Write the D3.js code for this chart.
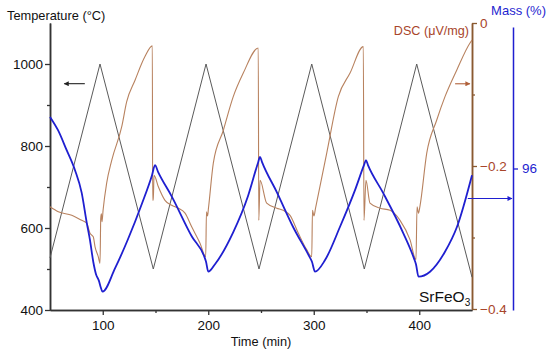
<!DOCTYPE html>
<html>
<head>
<meta charset="utf-8">
<script src="https://cdn.jsdelivr.net/npm/d3@7"></script>
<style>
  body { margin: 0; background: #fff; }
  svg { display: block; font-family: "Liberation Sans", Arial, sans-serif; }
</style>
</head>
<body>
<svg id="chart"></svg>
<script>
const width = 550;
const height = 351;

// temperature programme (°C)
const tempTime = [50, 97.4, 147.9, 197.9, 248.1, 298.1, 347.9, 397.6, 450];
const tempVals = [527, 1000, 500, 1000, 500, 1000, 500, 1000, 480];

// DSC signal (µV/mg)
const dscTime = [50, 57.9, 70.6, 80, 84.8, 87.9, 91, 92.7, 95.8, 97.4,
  98.1, 98.7, 99.3, 100.3, 103.7, 108.5, 118, 122.7, 130.6, 140, 147,
  147.3, 147.9, 148.6, 152.7, 159, 165.4, 171.6, 178, 184.3, 192.2, 197.6,
  198.3, 199.3, 200.2, 204.8, 214.3, 223.7, 233.2, 247.4,
  247.9, 249.1, 255.4, 264.9, 271.1, 277.5, 285.4, 293.3, 298.1,
  298.8, 300.2, 301.7, 312.3, 323.3, 334.4, 347,
  347.6, 349.5, 353.3, 362.8, 372.3, 381.8, 391.2, 396.9,
  397.9, 399.3, 400.7, 407.1, 416.5, 424.4, 435.5, 448.1, 450];
const dscVals = [-0.257, -0.264, -0.269, -0.276, -0.280, -0.294, -0.299, -0.313, -0.327, -0.336,
  -0.273, -0.267, -0.278, -0.262, -0.224, -0.192, -0.145, -0.110, -0.080, -0.047, -0.032,
  -0.248, -0.248, -0.213, -0.229, -0.248, -0.255, -0.259, -0.266, -0.285, -0.308, -0.327,
  -0.264, -0.270, -0.259, -0.196, -0.150, -0.103, -0.070, -0.035,
  -0.276, -0.220, -0.252, -0.259, -0.262, -0.269, -0.294, -0.317, -0.327,
  -0.262, -0.270, -0.259, -0.182, -0.103, -0.070, -0.033,
  -0.276, -0.220, -0.252, -0.259, -0.262, -0.276, -0.303, -0.331,
  -0.257, -0.266, -0.256, -0.182, -0.136, -0.103, -0.066, -0.028, -0.024];

// mass (%)
const massTime = [50, 57.6, 65.8, 73.7, 80, 84.8, 87.9, 91, 93.6, 96.4, 97.9, 99.8,
  111.6, 123.9, 137.2, 146.7, 149.5, 152.4, 165.6, 184.6, 196, 197.9, 200,
  206.4, 223.5, 237.7, 247.2, 249.1, 250.9, 265.2, 280.3, 295.5, 298.3, 301.2,
  310.7, 324.9, 339.1, 347.6, 349.5, 351.4, 365.6, 384.6, 395, 396.9, 399.3,
  410.2, 424.4, 435.8, 450];
const massVals = [96.62, 96.46, 96.22, 95.98, 95.71, 95.35, 95.14, 94.88, 94.73, 94.65, 94.58, 94.52,
  94.80, 95.15, 95.58, 95.92, 96.04, 95.96, 95.66, 95.18, 94.95, 94.88, 94.76,
  94.85, 95.23, 95.67, 96.07, 96.14, 96.08, 95.71, 95.30, 94.95, 94.88, 94.76,
  94.90, 95.30, 95.74, 96.04, 96.10, 96.04, 95.71, 95.23, 94.92, 94.85, 94.70,
  94.76, 95.00, 95.30, 95.92];

const timeTicks = [100, 200, 300, 400];
const timeMinor = [150, 250, 350];
const tempTicks = [400, 600, 800, 1000];
const tempMinor = [500, 700, 900];
const dscTicks = [0, -0.2, -0.4];
const dscMinor = [-0.1, -0.3];
const massTicks = [96];

const DSC_COLOR = "#b8825f";
const DSC_TEXT = "#a8452a";
const DSC_AXIS = "#8a5a30";
const MASS_COLOR = "#1f1fd0";
const AXIS_COLOR = "#333";

const svg = d3.select("#chart").attr("width", width).attr("height", height);

const x = d3.scaleLinear().domain([50, 450]).range([50, 472]);
const yTemp = d3.scaleLinear().domain([400, 1100]).range([310, 23]);
const yDsc = d3.scaleLinear().domain([-0.4, 0]).range([309, 23]);
const yMass = d3.scaleLinear().domain([94.3, 97.7]).range([310, 27]);

const fmtMinus = d => d === 0 ? "0" : String(d).replace("-", "\u2212");
const fmtInt = d3.format("d");

// axes
const styleAxis = (g, color, size) => {
  g.select(".domain").attr("stroke", color).attr("stroke-width", 1.5);
  g.selectAll(".tick line").attr("stroke", color).attr("stroke-width", 1.3);
  g.selectAll("text").attr("fill", color).attr("font-size", size);
};

// left temperature axis
svg.append("g")
  .attr("transform", "translate(50,0)")
  .call(d3.axisLeft(yTemp).tickValues(tempMinor).tickSize(3).tickFormat("").tickSizeOuter(0))
  .call(g => styleAxis(g, AXIS_COLOR, 13.5));
svg.append("g")
  .attr("transform", "translate(50,0)")
  .call(d3.axisLeft(yTemp).tickValues(tempTicks).tickSize(5).tickPadding(2).tickFormat(fmtInt).tickSizeOuter(0))
  .call(g => styleAxis(g, AXIS_COLOR, 13.5))
  .call(g => g.selectAll("text").attr("fill", "#111"));

// bottom time axis
svg.append("g")
  .attr("transform", "translate(0,310)")
  .call(d3.axisBottom(x).tickValues(timeMinor).tickSize(3).tickFormat("").tickSizeOuter(0))
  .call(g => styleAxis(g, AXIS_COLOR, 13.5));
svg.append("g")
  .attr("transform", "translate(0,310)")
  .call(d3.axisBottom(x).tickValues(timeTicks).tickSize(5).tickPadding(5).tickFormat(fmtInt).tickSizeOuter(0))
  .call(g => styleAxis(g, AXIS_COLOR, 13.5))
  .call(g => g.selectAll("text").attr("fill", "#111"));

// DSC axis
svg.append("g")
  .attr("transform", "translate(472,0)")
  .call(d3.axisRight(yDsc).tickValues(dscMinor).tickSize(3).tickFormat("").tickSizeOuter(0))
  .call(g => styleAxis(g, DSC_AXIS, 13.5));
svg.append("g")
  .attr("transform", "translate(472,0)")
  .call(d3.axisRight(yDsc).tickValues(dscTicks).tickSize(5).tickPadding(3).tickFormat(fmtMinus).tickSizeOuter(0))
  .call(g => styleAxis(g, DSC_AXIS, 13.5))
  .call(g => g.selectAll("text").attr("fill", DSC_TEXT));

// mass axis
svg.append("g")
  .attr("transform", "translate(513,0)")
  .call(d3.axisRight(yMass).tickValues(massTicks).tickSize(5).tickPadding(4).tickFormat(fmtInt).tickSizeOuter(0))
  .call(g => styleAxis(g, MASS_COLOR, 13.5));

// lines
const tempLine = d3.line().x((d, i) => x(tempTime[i])).y(d => yTemp(d));
const dscLine = d3.line().curve(d3.curveMonotoneX).x((d, i) => x(dscTime[i])).y(d => yDsc(d));
const massLine = d3.line().curve(d3.curveMonotoneX).x((d, i) => x(massTime[i])).y(d => yMass(d));

svg.append("path").datum(tempVals).attr("d", tempLine)
  .attr("fill", "none").attr("stroke", "#5a5a5a").attr("stroke-width", 1);
svg.append("path").datum(dscVals).attr("d", dscLine)
  .attr("fill", "none").attr("stroke", DSC_COLOR).attr("stroke-width", 1.1)
  .attr("stroke-linejoin", "round");
svg.append("path").datum(massVals).attr("d", massLine)
  .attr("fill", "none").attr("stroke", MASS_COLOR).attr("stroke-width", 1.8)
  .attr("stroke-linejoin", "round");

// arrows
const defs = svg.append("defs");
const marker = (id, color) => defs.append("marker")
  .attr("id", id).attr("viewBox", "0 0 10 10").attr("refX", 9).attr("refY", 5)
  .attr("markerWidth", 7).attr("markerHeight", 5).attr("markerUnits", "userSpaceOnUse")
  .attr("orient", "auto")
  .append("path").attr("d", "M0,0L10,5L0,10z").attr("fill", color);
marker("arrBlack", "#222");
marker("arrDsc", "#b0603a");
marker("arrMass", MASS_COLOR);

const arrow = (x1, x2, yy, color, id) => svg.append("line")
  .attr("x1", x1).attr("x2", x2).attr("y1", yy).attr("y2", yy)
  .attr("stroke", color).attr("stroke-width", 1.1).attr("marker-end", `url(#${id})`);
arrow(x(83), x(63.5), yTemp(952), "#222", "arrBlack");
arrow(x(434), x(448), yDsc(-0.085), "#b0603a", "arrDsc");
arrow(x(446), 512, yMass(95.64), MASS_COLOR, "arrMass");

// titles
svg.append("text").attr("x", 7).attr("y", 20).attr("font-size", 12.8).attr("fill", "#111")
  .text("Temperature (\u00B0C)");
svg.append("text").attr("x", 261).attr("y", 346).attr("text-anchor", "middle")
  .attr("font-size", 12.8).attr("fill", "#111").text("Time (min)");
svg.append("text").attr("x", 469).attr("y", 35).attr("text-anchor", "end")
  .attr("font-size", 12.6).attr("fill", DSC_TEXT).text("DSC (\u03BCV/mg)");
svg.append("text").attr("x", 546).attr("y", 15).attr("text-anchor", "end")
  .attr("font-size", 13).attr("fill", MASS_COLOR).text("Mass (%)");

const sample = svg.append("text").attr("x", 419).attr("y", 301.5)
  .attr("font-size", 15.5).attr("fill", "#111");
sample.append("tspan").text("SrFeO");
sample.append("tspan").attr("font-size", 10).attr("dy", 4).text("3");
</script>
</body>
</html>
